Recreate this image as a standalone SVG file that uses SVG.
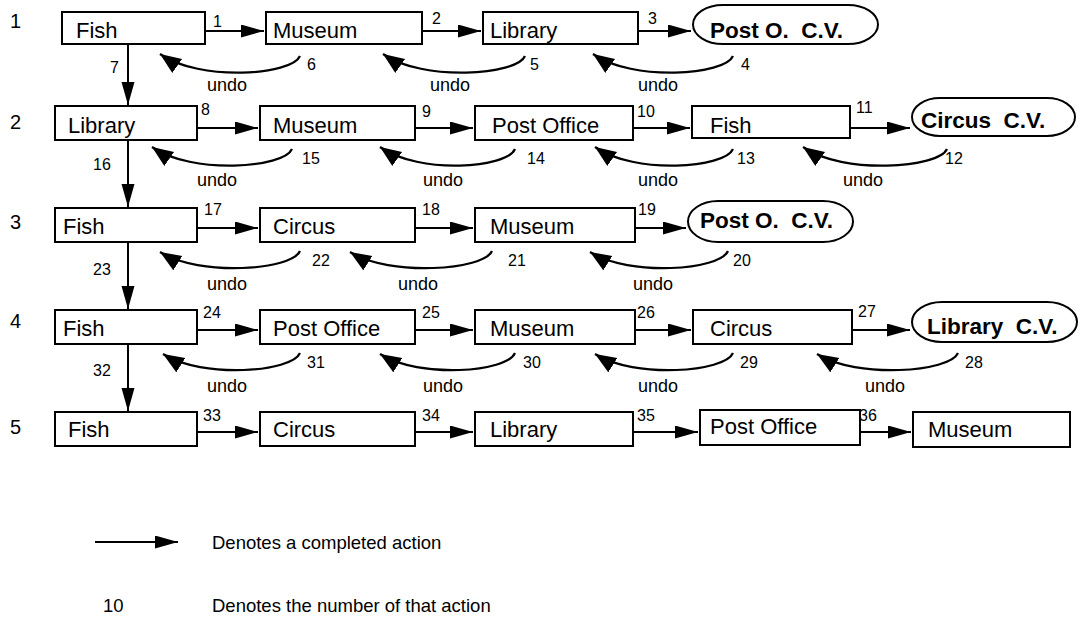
<svg xmlns="http://www.w3.org/2000/svg" width="1092" height="619" viewBox="0 0 1092 619">
<style>
.box{fill:#fff;stroke:#000;stroke-width:2}
.cv{fill:#fff;stroke:#000;stroke-width:2}
.t{font-family:"Liberation Sans",Arial,sans-serif;font-size:22px;fill:#000}
.b{font-family:"Liberation Sans",Arial,sans-serif;font-size:22.5px;font-weight:bold;fill:#000;white-space:pre}
.n{font-family:"Liberation Sans",Arial,sans-serif;font-size:16px;fill:#000}
.u{font-family:"Liberation Sans",Arial,sans-serif;font-size:18px;fill:#000}
.r{font-family:"Liberation Sans",Arial,sans-serif;font-size:20px;fill:#000}
.l{font-family:"Liberation Sans",Arial,sans-serif;font-size:18.5px;fill:#000}
.a{fill:none;stroke:#000;stroke-width:2;marker-end:url(#ah)}
.c{fill:none;stroke:#000;stroke-width:2.2;marker-end:url(#uh)}
</style>
<defs>
<marker id="ah" markerUnits="userSpaceOnUse" markerWidth="26" markerHeight="16" refX="23" refY="6.5" orient="auto">
<path d="M0,0 L23,6.5 L0,13 z" fill="#000"/>
</marker>
<marker id="uh" markerUnits="userSpaceOnUse" markerWidth="24" markerHeight="20" refX="21" refY="8.5" orient="auto">
<path d="M0,0 L21,8.5 L0,17 z" fill="#000"/>
</marker>
</defs>
<rect width="1092" height="619" fill="#fff"/>

<g id="rowlabels">
<text class="r" x="10" y="28">1</text>
<text class="r" x="10" y="129">2</text>
<text class="r" x="10" y="229">3</text>
<text class="r" x="10" y="328">4</text>
<text class="r" x="10" y="434">5</text>
</g>

<!-- Row 1 -->
<g id="r1-fish"><rect class="box" x="62" y="12" width="143" height="32"/><text class="t" x="76" y="38">Fish</text></g>
<g id="r1-museum"><rect class="box" x="266" y="12" width="156" height="32"/><text class="t" x="273" y="38">Museum</text></g>
<g id="r1-library"><rect class="box" x="483" y="12" width="155" height="32"/><text class="t" x="490" y="38">Library</text></g>
<g id="r1-cv"><rect class="cv" x="693" y="5" width="185" height="39" rx="30" ry="19.5"/><text class="b" x="710" y="38">Post O.  C.V.</text></g>

<!-- Row 2 -->
<g id="r2-library"><rect class="box" x="55" y="106" width="142" height="34"/><text class="t" x="68" y="133">Library</text></g>
<g id="r2-museum"><rect class="box" x="260" y="106" width="155" height="34"/><text class="t" x="273" y="133">Museum</text></g>
<g id="r2-post"><rect class="box" x="475" y="106" width="158" height="34"/><text class="t" x="492" y="133">Post Office</text></g>
<g id="r2-fish"><rect class="box" x="692" y="106" width="158" height="32"/><text class="t" x="710" y="133">Fish</text></g>
<g id="r2-cv"><rect class="cv" x="912" y="98" width="163" height="38" rx="28" ry="19"/><text class="b" x="921" y="128">Circus  C.V.</text></g>

<!-- Row 3 -->
<g id="r3-fish"><rect class="box" x="55" y="208" width="142" height="34"/><text class="t" x="63" y="234">Fish</text></g>
<g id="r3-circus"><rect class="box" x="260" y="208" width="155" height="34"/><text class="t" x="273" y="234">Circus</text></g>
<g id="r3-museum"><rect class="box" x="475" y="208" width="160" height="34"/><text class="t" x="490" y="234">Museum</text></g>
<g id="r3-cv"><rect class="cv" x="688" y="201" width="165" height="41" rx="30" ry="20.5"/><text class="b" x="700" y="228">Post O.  C.V.</text></g>

<!-- Row 4 -->
<g id="r4-fish"><rect class="box" x="55" y="310" width="142" height="34"/><text class="t" x="63" y="336">Fish</text></g>
<g id="r4-post"><rect class="box" x="260" y="310" width="155" height="34"/><text class="t" x="273" y="336">Post Office</text></g>
<g id="r4-museum"><rect class="box" x="475" y="310" width="160" height="34"/><text class="t" x="490" y="336">Museum</text></g>
<g id="r4-circus"><rect class="box" x="693" y="310" width="159" height="34"/><text class="t" x="710" y="336">Circus</text></g>
<g id="r4-cv"><rect class="cv" x="912" y="302" width="165" height="40" rx="30" ry="20"/><text class="b" x="927" y="334">Library  C.V.</text></g>

<!-- Row 5 -->
<g id="r5-fish"><rect class="box" x="55" y="412" width="142" height="34"/><text class="t" x="68" y="437">Fish</text></g>
<g id="r5-circus"><rect class="box" x="260" y="412" width="155" height="34"/><text class="t" x="273" y="437">Circus</text></g>
<g id="r5-library"><rect class="box" x="475" y="412" width="158" height="34"/><text class="t" x="490" y="437">Library</text></g>
<g id="r5-post"><rect class="box" x="700" y="410" width="160" height="35"/><text class="t" x="710" y="434">Post Office</text></g>
<g id="r5-museum"><rect class="box" x="913" y="412" width="157" height="35"/><text class="t" x="928" y="437">Museum</text></g>

<g id="connectors">
<!-- horizontal completed actions -->
<line class="a" x1="205" y1="31" x2="264" y2="31"/>
<line class="a" x1="422" y1="31" x2="481" y2="31"/>
<line class="a" x1="638" y1="31" x2="691" y2="31"/>
<line class="a" x1="197" y1="128" x2="258" y2="128"/>
<line class="a" x1="415" y1="128" x2="473" y2="128"/>
<line class="a" x1="633" y1="128" x2="690" y2="128"/>
<line class="a" x1="850" y1="128" x2="910" y2="128"/>
<line class="a" x1="197" y1="228" x2="258" y2="228"/>
<line class="a" x1="415" y1="228" x2="473" y2="228"/>
<line class="a" x1="635" y1="228" x2="686" y2="228"/>
<line class="a" x1="197" y1="330" x2="258" y2="330"/>
<line class="a" x1="415" y1="330" x2="473" y2="330"/>
<line class="a" x1="635" y1="330" x2="691" y2="330"/>
<line class="a" x1="852" y1="330" x2="910" y2="330"/>
<line class="a" x1="197" y1="432" x2="258" y2="432"/>
<line class="a" x1="415" y1="432" x2="473" y2="432"/>
<line class="a" x1="633" y1="432" x2="698" y2="432"/>
<line class="a" x1="860" y1="432" x2="911" y2="432"/>
<!-- vertical -->
<line class="a" x1="128" y1="44" x2="128" y2="105"/>
<line class="a" x1="128" y1="140" x2="128" y2="207"/>
<line class="a" x1="128" y1="242" x2="128" y2="309"/>
<line class="a" x1="128" y1="344" x2="128" y2="411"/>
<!-- undo curves row 1 -->
<path class="c" d="M300,56 C292,75 200,82 160,54"/>
<path class="c" d="M525,56 C517,75 423,82 383,54"/>
<path class="c" d="M733,56 C725,75 633,82 593,54"/>
<!-- row 2 -->
<path class="c" d="M292,149 C284,168 192,175 152,147"/>
<path class="c" d="M515,149 C507,168 420,175 380,147"/>
<path class="c" d="M733,149 C725,168 635,175 595,147"/>
<path class="c" d="M947,149 C939,168 843,175 803,147"/>
<!-- row 3 -->
<path class="c" d="M300,251 C292,270 200,277 160,252"/>
<path class="c" d="M492,251 C484,270 390,277 350,252"/>
<path class="c" d="M728,251 C720,270 630,277 590,252"/>
<!-- row 4 -->
<path class="c" d="M300,353 C292,372 203,379 163,354"/>
<path class="c" d="M515,353 C507,372 420,379 380,354"/>
<path class="c" d="M733,353 C725,372 635,379 595,354"/>
<path class="c" d="M958,353 C950,372 857,379 817,354"/>
<!-- legend arrow -->
<line class="a" x1="95" y1="542" x2="178" y2="542"/>
</g>

<g id="labels">
<text class="n" x="213" y="27">1</text>
<text class="n" x="432" y="24">2</text>
<text class="n" x="648" y="24">3</text>
<text class="n" x="307" y="70">6</text>
<text class="n" x="530" y="70">5</text>
<text class="n" x="741" y="70">4</text>
<text class="u" x="207" y="91">undo</text>
<text class="u" x="430" y="91">undo</text>
<text class="u" x="638" y="91">undo</text>
<text class="n" x="110" y="73">7</text>

<text class="n" x="201" y="115">8</text>
<text class="n" x="422" y="117">9</text>
<text class="n" x="637" y="117">10</text>
<text class="n" x="856" y="113">11</text>
<text class="n" x="302" y="164">15</text>
<text class="n" x="527" y="164">14</text>
<text class="n" x="737" y="164">13</text>
<text class="n" x="945" y="164">12</text>
<text class="u" x="197" y="186">undo</text>
<text class="u" x="423" y="186">undo</text>
<text class="u" x="638" y="186">undo</text>
<text class="u" x="843" y="186">undo</text>
<text class="n" x="93" y="170">16</text>

<text class="n" x="204" y="215">17</text>
<text class="n" x="422" y="215">18</text>
<text class="n" x="638" y="215">19</text>
<text class="n" x="312" y="266">22</text>
<text class="n" x="508" y="266">21</text>
<text class="n" x="733" y="266">20</text>
<text class="u" x="207" y="290">undo</text>
<text class="u" x="398" y="290">undo</text>
<text class="u" x="633" y="290">undo</text>
<text class="n" x="93" y="275">23</text>

<text class="n" x="203" y="318">24</text>
<text class="n" x="422" y="318">25</text>
<text class="n" x="637" y="318">26</text>
<text class="n" x="858" y="317">27</text>
<text class="n" x="307" y="368">31</text>
<text class="n" x="523" y="368">30</text>
<text class="n" x="740" y="368">29</text>
<text class="n" x="965" y="368">28</text>
<text class="u" x="207" y="392">undo</text>
<text class="u" x="423" y="392">undo</text>
<text class="u" x="638" y="392">undo</text>
<text class="u" x="865" y="392">undo</text>
<text class="n" x="93" y="376">32</text>

<text class="n" x="203" y="421">33</text>
<text class="n" x="422" y="421">34</text>
<text class="n" x="637" y="421">35</text>
<text class="n" x="859" y="421">36</text>
</g>

<g id="legend">
<text class="l" x="212" y="549">Denotes a completed action</text>
<text class="l" x="103" y="612">10</text>
<text class="l" x="212" y="612">Denotes the number of that action</text>
</g>
</svg>
